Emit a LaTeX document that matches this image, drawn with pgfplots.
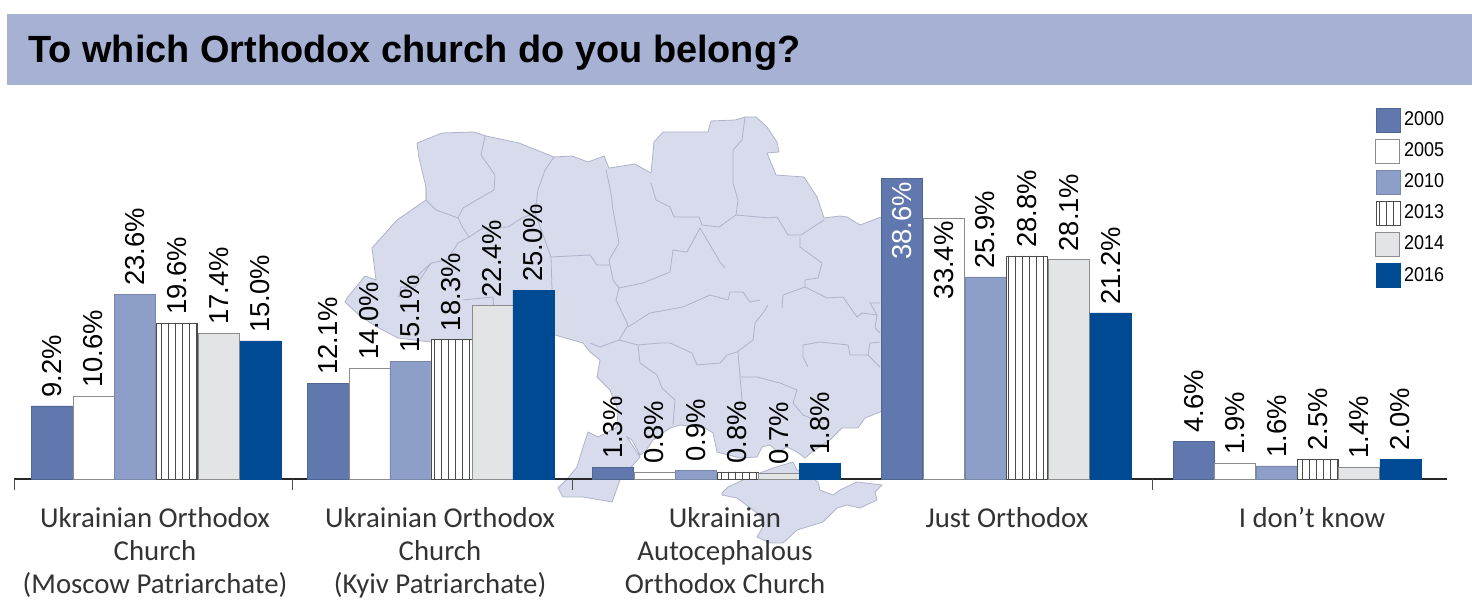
\documentclass[border=0pt]{standalone}
\usepackage{fontspec}
\usepackage{pgfplots}
\pgfplotsset{compat=1.18}
\usetikzlibrary{patterns.meta}
\setmainfont{Liberation Sans}
\newfontfamily\catfont{Carlito}
\newfontfamily\legfont[FakeStretch=0.9]{Liberation Sans}
\definecolor{band}{HTML}{A6B1D3}
\definecolor{mapc}{HTML}{D7DBEC}
\definecolor{mapb}{HTML}{AEB3C9}
\definecolor{cA}{HTML}{6078AE}
\definecolor{cC}{HTML}{8D9FC8}
\definecolor{cE}{HTML}{E3E4E6}
\definecolor{cF}{HTML}{004A93}
\tikzset{bd/.style={draw=mapb,line width=0.4pt,solid,mark=none}}
\begin{document}
\begin{tikzpicture}
\path[use as bounding box] (0,0) rectangle (736pt,306.5pt);
% background: heading band and map, in pixel coordinates of the picture
\begin{axis}[at={(0,0)},anchor=south west,scale only axis,width=736pt,height=306.5pt,
  xmin=0,xmax=1472,ymin=0,ymax=613,y dir=reverse,hide axis,clip=false]
\addplot[fill=band,draw=none] coordinates {(7,14)(1472,14)(1472,85)(7,85)} -- cycle;
\node[anchor=base west,inner sep=0pt,font=\bfseries\fontsize{18.95}{22}\selectfont] at (axis cs:28,63) {To which Orthodox church do you belong?};
% mainland
\addplot[fill=mapc,bd] coordinates {
(417,143)(442,133)(474,132)(486,136)(519,143)(554,157)(572,156)(588,162)(604,156)(609,168)(635,164)(651,173)
(654,142)(663,132)(708,132)(711,121)(735,120)(745,117)(756,117)(767,127)(777,142)(779,152)(767,153)(776,175)
(804,177)(817,197)(824,218)(840,216)(847,217)(860,225)(881,217)(883,217)(883,410)(880,412)(865,418)(858,428)(842,428)
(830,440)(812,452)(805,458)(797,452)(787,447)(778,452)(770,445)(762,447)(757,457)(740,458)(717,452)(713,433)
(705,428)(680,425)(670,428)(653,440)(645,452)(640,455)(632,440)(627,437)(640,457)(620,480)(612,502)(583,497)(563,497)
(558,488)(568,478)(577,467)(583,447)(588,432)(598,437)(617,427)(618,410)(610,390)(597,377)(600,360)(590,352)
(583,343)(555,335)(430,342)(398,338)(377,327)(360,316)(345,302)(347,298)(365,276)(376,280)(372,248)(397,220)
(426,200)(426,187)(419,158)} -- cycle;
% Crimea
\addplot[fill=mapc,bd] coordinates {
(722,493)(728,487)(743,480)(760,473)(773,468)(793,462)(797,470)(812,478)(818,482)(820,490)(833,495)(840,490)(857,482)
(882,485)(875,492)(877,500)(860,508)(847,505)(837,508)(823,522)(797,530)(783,543)(770,543)(757,537)(765,523)(757,513)
(737,498)(722,495)} -- cycle;
% region borders
\addplot[bd] coordinates {(485,136)(481,155)(495,175)(494,190)(463,208)(458,218)};
\addplot[bd] coordinates {(426,187)(426,200)(436,210)(458,218)(463,228)(469,237)(458,243)(447,260)(431,263)(415,287)(401,287)(399,297)};
\addplot[bd] coordinates {(554,157)(545,170)(538,190)(535,213)(522,218)(508,227)(483,228)(469,237)};
\addplot[bd] coordinates {(535,213)(551,257)(552,290)};
\addplot[bd] coordinates {(551,257)(590,255)(597,265)(610,265)};
\addplot[bd] coordinates {(606,170)(611,193)(613,210)(619,243)(609,260)(613,280)(619,288)(616,300)(628,325)(619,340)(600,347)(590,343)};
\addplot[bd] coordinates {(651,183)(656,200)(670,207)(674,217)(699,217)(702,225)};
\addplot[bd] coordinates {(745,117)(742,140)(733,150)(733,183)(738,200)(736,215)(719,227)(702,225)};
\addplot[bd] coordinates {(736,215)(769,218)(777,217)(788,235)(801,235)(824,220)};
\addplot[bd] coordinates {(800,237)(800,247)(822,263)(818,278)(805,280)(805,287)(783,295)(782,308)};
\addplot[bd] coordinates {(805,287)(827,298)(843,297)(857,317)(862,313)(877,315)(875,328)(880,333)};
\addplot[bd] coordinates {(880,303)(870,303)(877,315)};
\addplot[bd] coordinates {(619,288)(643,283)(670,272)(673,250)(687,252)(700,228)(713,250)(720,262)(725,268)};
\addplot[bd] coordinates {(628,327)(650,313)(683,307)(710,295)(728,300)(730,292)(743,292)(750,302)(760,300)};
\addplot[bd] coordinates {(619,340)(638,345)(660,343)(670,343)(692,353)(697,365)(720,363)(727,355)(737,352)(753,340)(755,323)(763,313)(768,305)};
\addplot[bd] coordinates {(638,345)(640,363)(657,375)(662,388)(675,400)(673,425)};
\addplot[bd] coordinates {(738,352)(740,377)(742,400)(738,413)(733,425)};
\addplot[bd] coordinates {(740,377)(757,377)(780,383)(797,390)(793,403)(803,415)(823,423)};
\addplot[bd] coordinates {(808,367)(803,357)(803,345)(820,342)(848,345)(850,355)(868,355)(870,343)(880,342)};
\addplot[bd] coordinates {(868,355)(880,367)};
\addplot[bd] coordinates {(398,297)(410,283)(431,263)};
\addplot[bd] coordinates {(463,300)(493,297)(494,314)};
\end{axis}
% bars: x in picture pixels; y = bar height as drawn in the reference; [meta] = the printed label
\begin{axis}[at={(7pt,67pt)},anchor=south west,scale only axis,width=716.5pt,height=156pt,
  xmin=14,xmax=1447,ymin=0,ymax=40,clip=false,
  axis x line=bottom,axis y line=none,
  axis line style={-,line width=0.8pt,draw=black!85},
  ybar,bar shift=0pt,bar width=20.6pt,
  point meta=explicit,
  xtick={155,440,725,1007,1312},
  xticklabels={{Ukrainian Orthodox\\Church\\(Moscow Patriarchate)},{Ukrainian Orthodox\\Church\\(Kyiv Patriarchate)},{Ukrainian\\Autocephalous\\Orthodox Church},{Just Orthodox},{I don’t know}},
  xticklabel style={align=center,anchor=north,yshift=-14pt,inner sep=0pt,font=\catfont\fontsize{14.4}{16.5}\selectfont,text=black!80},
  major tick length=0pt,
  extra x ticks={14,292,572,1152},extra x tick labels={},
  extra tick style={major tick length=5.5pt,tick style={draw=black!70,line width=0.4pt}},
  tick align=outside,
  /pgf/number format/assume math mode=true,
  nodes near coords={\pgfmathprintnumber[fixed,fixed zerofill,precision=1]{\pgfplotspointmeta}\%},
  nodes near coords style={yshift=4pt,rotate=90,anchor=west,inner sep=0pt,font=\fontsize{13.7}{16}\selectfont,text=black},
  legend style={at={(axis cs:1375,47.7)},anchor=north west,draw=none,fill=none,inner sep=0pt,
    font=\legfont\fontsize{10}{11}\selectfont,row sep=3.1pt,/tikz/every even column/.append style={column sep=2pt}},
  legend cell align=left,
  legend image code/.code={\draw[#1] (0pt,-6pt) rectangle (12pt,6pt);},
]
\addplot[fill=cA,draw=cA!85!black,line width=0.3pt] coordinates {(52,9.36)[9.2](328,12.3)[12.1](613,1.5)[1.3](1194,4.87)[4.6]};
\addlegendentry{2000}
\addplot[fill=white,draw=black!45,line width=0.4pt] coordinates {(93.5,10.64)[10.6](369.5,14.2)[14.0](654.5,0.9)[0.8](1235,2.05)[1.9]};
\addlegendentry{2005}
\addplot[fill=cC,draw=cC!85!black,line width=0.3pt] coordinates {(135,23.7)[23.6](410.5,15.1)[15.1](696,1.15)[0.9](985.5,25.9)[25.9](1277,1.67)[1.6]};
\addlegendentry{2010}
\addplot[fill=white,draw=black!70,line width=0.3pt,postaction={pattern={Lines[angle=90,distance=3.5pt,line width=0.25pt]},pattern color=black!70}] coordinates {(177,20.0)[19.6](451.5,17.9)[18.3](737.5,0.9)[0.8](1027,28.6)[28.8](1318,2.56)[2.5]};
\addlegendentry{2013}
\addplot[fill=cE,draw=black!45,line width=0.4pt] coordinates {(219,18.7)[17.4](492.5,22.2)[22.4](779,0.77)[0.7](1069,28.1)[28.1](1359,1.54)[1.4]};
\addlegendentry{2014}
\addplot[fill=cF,draw=cF,line width=0.3pt] coordinates {(260.5,17.7)[15.0](533.5,24.2)[25.0](820,2.05)[1.8](1110.5,21.3)[21.2](1400.5,2.56)[2.0]};
\addlegendentry{2016}
\addplot[fill=cA,draw=cA!85!black,line width=0.3pt,forget plot,
  nodes near coords style={anchor=east,xshift=-6pt,text=white}] coordinates {(902,38.6)[38.6]};
\addplot[fill=white,draw=black!45,line width=0.4pt,forget plot,
  nodes near coords style={anchor=east,xshift=-5.5pt}] coordinates {(944,33.46)[33.4]};
\end{axis}
\end{tikzpicture}
\end{document}
